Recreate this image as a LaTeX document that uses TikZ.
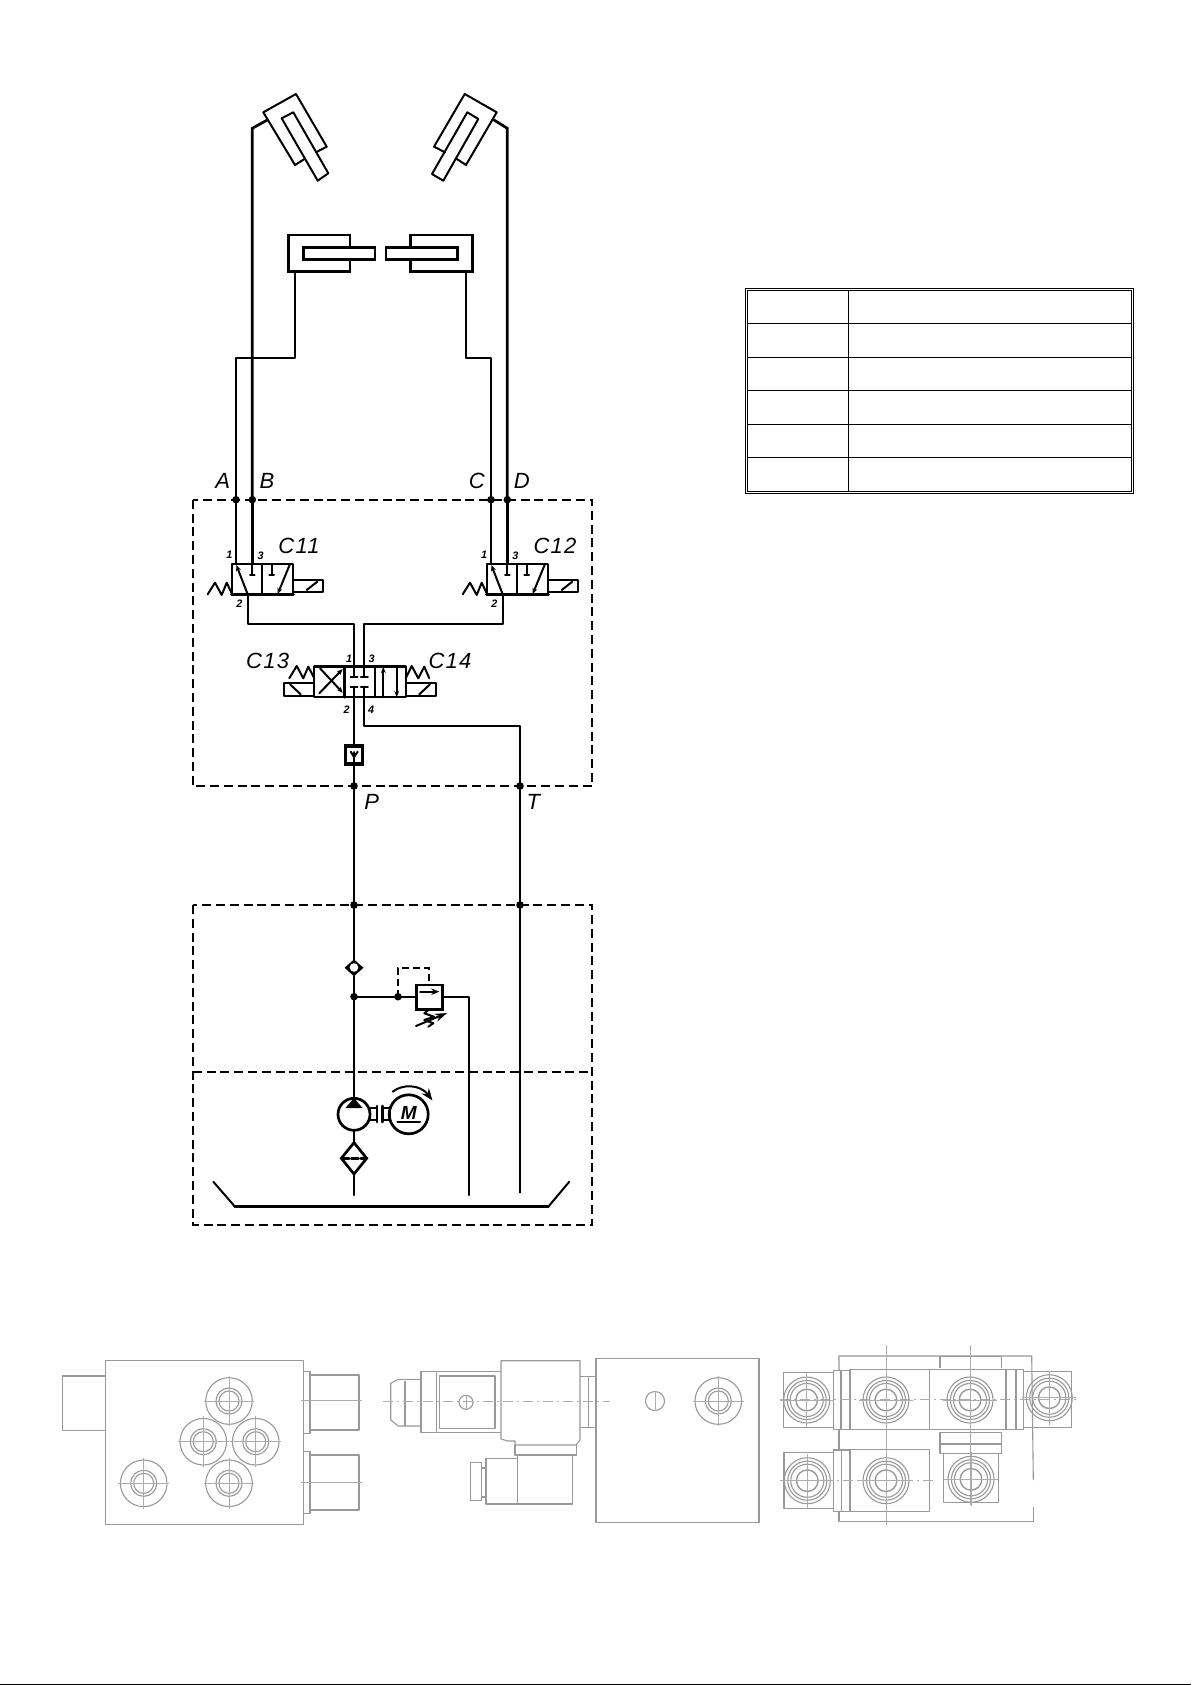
\documentclass[tikz,border=0pt]{standalone}
\usepackage{fontspec}
\setmainfont{Liberation Sans}
\usetikzlibrary{arrows.meta}
\definecolor{drawgray}{gray}{0.6}
\tikzset{
  x=0.5pt,y=-0.5pt,
  line/.style={line width=1pt,line cap=round,line join=round},
  thickline/.style={line width=1.35pt,line cap=round,line join=miter},
  heavy/.style={line width=1.6pt,line cap=round,line join=miter},
  dashedbox/.style={line width=1pt,dash pattern=on 4.5pt off 2.4pt},
  pilot/.style={line width=0.9pt,dash pattern=on 3.5pt off 2pt},
  junction/.style={circle,fill=black,inner sep=0pt,minimum size=3.8pt},
  lab/.style={inner sep=0pt,font=\fontsize{11}{12}\selectfont\itshape},
  labw/.style={inner sep=0pt,font=\fontsize{11}{12}\selectfont\itshape\addfontfeature{LetterSpace=6}},
  portno/.style={inner sep=0pt,font=\fontsize{5.4}{6}\selectfont\bfseries\itshape},
  tip/.style={-{Stealth[length=3pt,width=2.4pt]}},
  gr/.style={draw=drawgray,line width=0.55pt,line join=round},
  cl/.style={draw=drawgray!80,line width=0.35pt},
  cd/.style={draw=drawgray!80,line width=0.35pt,dash pattern=on 5pt off 2pt on 1pt off 2pt},
  tablerule/.style={line width=0.75pt},
  tableframe/.style={line width=0.5pt},
}
\newcommand{\tricyl}[3]{%
 \draw[gr] (#1,#2) circle (#3);
 \draw[gr] (#1,#2) circle (#3*0.56);
 \draw[gr] (#1,#2) circle (#3*0.43);
 \draw[cl] (#1-#3-2,#2) -- (#1+#3+2,#2) (#1,#2-#3-2) -- (#1,#2+#3+2);
}
\newcommand{\dblring}[3]{%
 \draw[gr] (#1,#2) circle (#3);
 \draw[gr] (#1,#2) circle (#3*0.85);
 \draw[gr] (#1,#2) circle (#3*0.72);
 \draw[gr,line width=0.7pt] (#1,#2) circle (#3*0.47);
 \draw[cl] (#1-#3-4,#2) -- (#1+#3+4,#2) (#1,#2-#3-4) -- (#1,#2+#3+4);
}
\newcommand{\threeway}[1]{%
 \begin{scope}[xshift=#1*0.5pt]
  \draw[line] (231.7,564) rectangle (293.3,594.3);
  \draw[heavy] (231.7,594.3) -- (293.3,594.3);
  \draw[line] (262.3,564) -- (262.3,594.3);
  \draw[line,tip] (247.7,594.3) -- (236.3,565);
  \draw[line] (252.3,564) -- (252.3,575) (250,575) -- (254.6,575);
  \draw[line] (271.7,564) -- (271.7,575) (269.4,575) -- (274,575);
  \draw[line,tip] (290,564) -- (277.7,594);
  \draw[line] (293.3,580) rectangle (323.3,592.3);
  \draw[line] (306.7,590) -- (317.3,581.7);
  \draw[line] (207.7,594.3) -- (215,582.7) -- (221.7,595) -- (226.7,582.7) -- (231.7,593.3);
 \end{scope}}
\begin{document}
\begin{tikzpicture}
\useasboundingbox (0,0) rectangle (1191,1685);
\fill[white] (0,0) rectangle (1191,1685);
\fill[black] (0,1683.8) rectangle (1191,1685);

\coordinate (jA) at (236,499.7);
\coordinate (jB) at (252.3,499.7);
\coordinate (jC) at (491,499.7);
\coordinate (jD) at (507.3,499.7);
\coordinate (jP) at (354,786);
\coordinate (jT) at (520,786);
\coordinate (jP2) at (354,905);
\coordinate (jT2) at (520,905);
\coordinate (jR) at (354,996.7);
\coordinate (jRP) at (398,996.7);

\draw[dashedbox] (192.7,499.7) rectangle (592.3,786);
\draw[dashedbox] (192.7,905) rectangle (592.3,1225.3);
\draw[dashedbox] (192.7,1072) -- (592.3,1072);

\draw[line] (326.7,146.7) -- (296,94) -- (263.3,112.3) -- (295,165) -- (304,159.3);
\draw[line] (326.7,146.7) -- (316,152.3);
\draw[line] (281.7,118.3) -- (293.3,112.3) -- (328.3,173.3) -- (317.7,180.7) -- cycle;
\draw[line] (464.7,94) -- (496.7,112.3) -- (466,165) -- (455.7,158.3);
\draw[line] (464.7,94) -- (434,146.7) -- (445,152.3);
\draw[line] (467.3,112.3) -- (478.3,119) -- (443.3,180.7) -- (432,174) -- cycle;

\draw[thickline] (350,246.7) -- (350,235) -- (288.3,235) -- (288.3,271.7) -- (350,271.7) -- (350,260);
\draw[thickline] (303.3,247.3) rectangle (375,259.3);
\draw[thickline] (410.7,246.7) -- (410.7,235) -- (472.3,235) -- (472.3,271.7) -- (410.7,271.7) -- (410.7,260);
\draw[thickline] (386,247.3) rectangle (457.3,259.3);

\draw[thickline] (jB) -- (252.3,128.3) -- (267.3,120);
\draw[thickline] (jD) -- (507.3,128.3) -- (494,120);
\draw[line] (295,271.7) -- (295,357.7) -- (236,357.7) -- (jA);
\draw[line] (466,271.7) -- (466,357.7) -- (491,357.7) -- (jC);
\draw[line] (jA) -- (236,564);
\draw[thickline] (jB) -- (252.3,564);
\draw[line] (jC) -- (491,564);
\draw[thickline] (jD) -- (507.3,564);

\threeway{0}
\threeway{255}

\draw[line] (247.7,594.3) -- (247.7,624.3) -- (354,624.3) -- (354,676.7);
\draw[line] (502.7,594.3) -- (502.7,624.3) -- (364.3,624.3) -- (364.3,676.7);

\draw[line] (314.3,666.7) rectangle (405.7,697.3);
\draw[thickline] (314.3,666.7) -- (405.7,666.7) (344.3,666.7) -- (344.3,697.3);
\draw[line] (375,666.7) -- (375,697.3);
\draw[line,tip] (319.3,693.3) -- (342.7,669);
\draw[line,tip] (320,668.3) -- (342.7,692.7);
\draw[line] (350.5,676.7) -- (357.5,676.7) (360.8,676.7) -- (367.8,676.7);
\draw[line] (350.5,686.7) -- (357.5,686.7) (360.8,686.7) -- (367.8,686.7);
\draw[line] (354,686.7) -- (354,746);
\draw[line] (364.3,686.7) -- (364.3,725.7) -- (520,725.7) -- (jT);
\draw[line,tip] (383.3,697.3) -- (383.3,667);
\draw[line,tip] (396.7,666.7) -- (396.7,697);
\draw[line] (284,683.3) rectangle (314.3,695.7);
\draw[line] (290,684.3) -- (300.7,694.3);
\draw[line] (405.7,683.3) rectangle (436,695.7);
\draw[line] (419.3,694.3) -- (430,684.3);
\draw[line] (289.3,678.3) -- (296.7,666) -- (303.3,678.3) -- (308.3,666.7) -- (314.3,678.3);
\draw[line] (405.7,678.3) -- (411.7,666) -- (418.3,678.3) -- (424.3,666.7) -- (429.3,678.3);

\draw[heavy] (345.3,746) rectangle (362.7,764);
\draw[line] (350.7,751.7) -- (354,757) -- (357.7,751.7);
\draw[line] (354,752) -- (jP);

\draw[line] (jP) -- (jP2) -- (jR) -- (354,1098);
\draw[line] (jT) -- (jT2) -- (520,1192.7);

\fill (344.5,967.7) -- (354,959.5) -- (363.5,967.7) -- (354,976.3) -- cycle;
\fill[white] (354,967.5) circle (4.3);

\draw[line] (jR) -- (416.7,996.7);
\draw[pilot] (jRP) -- (398,967.7) -- (429,967.7) -- (429,985);
\draw[thickline] (416.7,985) rectangle (442.3,1009.3);
\draw[line,-{Stealth[length=4pt,width=3.2pt]}] (420,991.7) -- (439.3,991.7);
\draw[line] (442.3,996.7) -- (469,996.7) -- (469,1195);
\draw[line] (429.3,1009.3) -- (424.3,1013.3) -- (434,1016.7) -- (424.3,1020) -- (433.3,1023.3) -- (428.3,1026.7);
\draw[line,-{Stealth[length=6pt,width=4pt]}] (416,1026) -- (447,1013);

\draw[thickline] (354,1114.3) circle (16);
\fill (345.5,1108) -- (362.5,1108) -- (354,1098) -- cycle;
\draw[line] (354,1130.3) -- (354,1142.7);
\draw[thickline] (354,1142.7) -- (366.7,1158.3) -- (354,1174) -- (341.3,1158.3) -- cycle;
\draw[heavy,dash pattern=on 3.5pt off 1.2pt] (342,1158.3) -- (366,1158.3);
\draw[line] (354,1174) -- (354,1195);
\draw[line] (370,1108.3) rectangle (377,1120);
\draw[line] (382.5,1108.3) rectangle (390,1120);
\draw[thickline] (377,1106) -- (377,1122) (382.5,1106) -- (382.5,1122);
\draw[thickline] (408.7,1114.3) circle (19.5);
\node[inner sep=0pt,font=\fontsize{9.5}{10}\selectfont\bfseries\itshape] (motorM) at (408.7,1112.5) {M};
\draw[line] (397.3,1121.7) -- (420,1121.7);
\draw[line,-{Stealth[length=6pt,width=4.5pt]}] (392.7,1091.7) .. controls (402,1084) and (420,1084) .. (432.5,1100.5);

\draw[line] (213.3,1181.7) -- (235,1206.7);
\draw[heavy,line width=1.7pt] (235,1206.7) -- (548.3,1206.7);
\draw[line] (548.3,1206.7) -- (569.3,1181.7);

\foreach \j in {jA,jB,jC,jD,jP,jT,jP2,jT2,jR,jRP}
  \node[junction] at (\j) {};

\node[lab] (lA) at (222.7,480.7) {A};
\node[lab] (lB) at (267,480.7) {B};
\node[lab] (lC) at (476.7,480.7) {C};
\node[lab] (lD) at (521.7,480.7) {D};
\node[labw] (lC11) at (299,545.7) {C11};
\node[labw] (lC12) at (555,545.7) {C12};
\node[labw] (lC13) at (267.7,660.7) {C13};
\node[labw] (lC14) at (450,660.7) {C14};
\node[lab] (lP) at (371.7,802.3) {P};
\node[lab] (lT) at (533.3,802.3) {T};
\node[portno] (p1) at (229.3,554.3) {1};
\node[portno] (p2) at (260.7,555.7) {3};
\node[portno] (p3) at (239.3,603.3) {2};
\node[portno] (p4) at (484,554.3) {1};
\node[portno] (p5) at (515.3,555.7) {3};
\node[portno] (p6) at (494.3,603.3) {2};
\node[portno] (p7) at (349,658.3) {1};
\node[portno] (p8) at (371.7,658.3) {3};
\node[portno] (p9) at (346.7,710) {2};
\node[portno] (p10) at (371,710) {4};

\draw[tableframe] (745.2,288.6) rectangle (1133.6,493.4);
\draw[tableframe] (747.4,290.8) rectangle (1131.4,491.2);
\draw[tablerule] (747.4,290.8) -- (747.4,491.2);
\draw[tablerule] (848.3,290.8) -- (848.3,491.2);
\foreach \r in {323.3,357.3,390.3,424.3,457.3}
  \draw[tablerule] (747.4,\r) -- (1131.4,\r);

\draw[gr] (105.3,1360.7) rectangle (303.3,1524.3);
\draw[gr] (105.3,1376) -- (62.7,1376) -- (62.7,1430.7) -- (105.3,1430.7);
\draw[gr] (303.3,1371.7) -- (310,1371.7) -- (310,1433.3) -- (303.3,1433.3);
\draw[gr] (310,1375) -- (359,1375) -- (359,1430) -- (310,1430);
\draw[gr] (303.3,1451.7) -- (310,1451.7) -- (310,1513.3) -- (303.3,1513.3);
\draw[gr] (310,1455) -- (359,1455) -- (359,1510) -- (310,1510);
\draw[cl] (301,1400.7) -- (362,1400.7) (301,1482.7) -- (362,1482.7);
\tricyl{229}{1401}{23.3}
\tricyl{203.3}{1441.7}{23.3}
\tricyl{255.7}{1441.7}{23.3}
\tricyl{229}{1483.3}{23.3}
\tricyl{143.7}{1483.3}{23.3}

\draw[gr] (596,1358.3) rectangle (759,1522.7);
\draw[gr] (501,1360.7) -- (580,1360.7) -- (580,1440) -- (576,1445) -- (515,1445) -- (515,1441) -- (508,1441) -- (501,1439) -- cycle;
\draw[gr] (515,1445) -- (515,1455) -- (576.7,1455) -- (576.7,1445);
\draw[gr] (517.7,1455) -- (517.7,1504) -- (572.7,1504) -- (572.7,1455);
\draw[gr] (517.7,1458.3) -- (486,1458.3) -- (486,1504) -- (517.7,1504);
\draw[gr] (470.7,1462.7) rectangle (481.7,1500.7);
\draw[gr] (481.7,1468) -- (486,1468) (481.7,1497) -- (486,1497);
\draw[gr] (580,1376.7) -- (596,1376.7) (580,1427.3) -- (596,1427.3) (588.3,1376.7) -- (588.3,1427.3);
\draw[gr] (421,1371.7) rectangle (436.7,1432.3);
\draw[gr] (436.7,1371.7) -- (501,1371.7) (436.7,1432.3) -- (501,1432.3);
\draw[gr] (439.3,1376) rectangle (495,1428.3);
\draw[gr] (421,1379.3) -- (398.3,1379.3) -- (390.7,1383.3) -- (390.7,1420) -- (398.3,1426) -- (421,1426);
\draw[gr] (405,1381) -- (405,1426);
\draw[cd] (383.3,1401.7) -- (610,1401.7);
\draw[gr] (466,1402.3) circle (7);
\draw[cl] (466,1396) -- (466,1409);
\draw[gr] (655,1401) circle (9.5);
\draw[cl] (655,1391) -- (655,1411);
\tricyl{718.3}{1401}{23.3}

\draw[gr] (839,1370.7) -- (839,1356) -- (1031.7,1356) -- (1033.3,1480);
\draw[gr] (1033.3,1506.7) -- (1033.3,1521.7) -- (839,1521.7) -- (839,1511.7);
\draw[gr] (839,1430) -- (839,1450);
\draw[gr] (940,1368.3) -- (940,1356.7) -- (1001.7,1356.7) -- (1001.7,1368.3);
\draw[gr] (783.3,1372.3) rectangle (833.3,1427.3);
\draw[gr] (833.3,1370.7) rectangle (850,1429.3);
\draw[gr] (841,1370.7) -- (841,1429.3);
\draw[gr] (850,1369.3) rectangle (929.3,1429.3);
\draw[gr] (929.3,1369.3) rectangle (1006,1429.3);
\draw[gr] (1006,1369.3) rectangle (1023.3,1429.3);
\draw[gr] (1016,1369.3) -- (1016,1429.3);
\draw[gr] (1023.3,1371.7) rectangle (1071.7,1427.3);
\draw[gr] (784,1452.7) rectangle (833.3,1508.3);
\draw[gr] (833.3,1450) rectangle (850,1511.7);
\draw[gr] (841.7,1450) -- (841.7,1511.7);
\draw[gr] (850,1449.3) rectangle (929.3,1511.7);
\draw[gr] (940,1432.7) rectangle (1001.7,1444);
\draw[gr] (940,1444) rectangle (1001.7,1453.3);
\draw[gr] (943.3,1453.3) rectangle (998.3,1502.7);
\draw[cd] (780,1399.3) -- (1076.7,1399.3);
\draw[cd] (783,1480) -- (936,1480);
\draw[cl] (886,1345) -- (886,1525) (970,1345) -- (970,1505);
\dblring{806.7}{1400}{23}
\dblring{886}{1400}{23}
\dblring{970}{1400}{23}
\dblring{1049.3}{1397.7}{23}
\dblring{807.3}{1480.7}{23}
\dblring{886}{1480.7}{23}
\dblring{971}{1479.3}{23}
\end{tikzpicture}
\end{document}
